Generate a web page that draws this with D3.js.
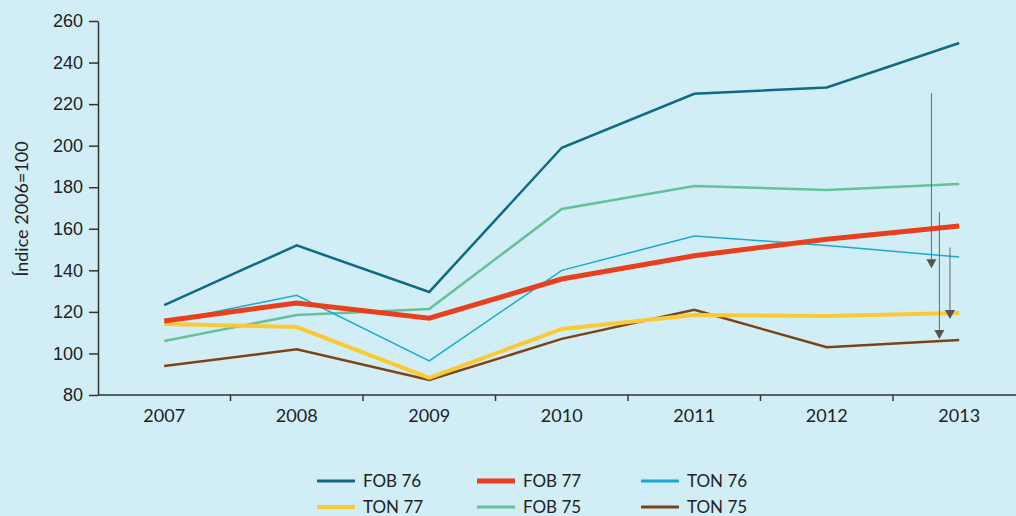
<!DOCTYPE html>
<html>
<head>
<meta charset="utf-8">
<script src="https://cdn.jsdelivr.net/npm/d3@7"></script>
<style>
  body { margin: 0; background: #d1eef6; }
  svg { display: block; font-family: Lato, "Open Sans", sans-serif; }
  .axis path, .axis line { stroke: #333; stroke-width: 1.5; }
  .axis text { font-size: 18px; fill: #222; }
</style>
</head>
<body>
<div id="chart"></div>
<script>
const years = ["2007", "2008", "2009", "2010", "2011", "2012", "2013"];
const yTicks = [80, 100, 120, 140, 160, 180, 200, 220, 240, 260];

const fob76 = [123.3, 152, 129.6, 199, 225, 228, 249.4];
const fob77 = [115.6, 124.3, 117, 135.8, 147, 155, 161.3];
const ton76 = [115, 128, 96.4, 140, 156.5, 152, 146.4];
const ton77 = [114.2, 112.7, 88.2, 111.8, 118.5, 118, 119.5];
const fob75 = [106, 118.5, 121.4, 169.5, 180.6, 178.7, 181.5];
const ton75 = [94, 102, 87.2, 107, 121, 103, 106.5];

const seriesNames = ["FOB 76", "FOB 77", "TON 76", "TON 77", "FOB 75", "TON 75"];
const seriesValues = [fob76, fob77, ton76, ton77, fob75, ton75];
const seriesColors = ["#0f6a85", "#e8401c", "#1aa9d0", "#fcc934", "#66c09b", "#7b4418"];
const seriesWidths = [2.5, 5, 1.5, 4, 2.5, 2.5];
// draw order (thin lines under thick ones roughly like the original)
const drawOrder = [4, 2, 0, 5, 3, 1];

// arrows: [x as fractional year, from value, to value]
const arrows = [
  [2012.79, 225.3, 141],
  [2012.85, 168, 107],
  [2012.93, 151, 116.6]
];

const width = 1016;
const height = 516;

const svg = d3.select('#chart')
  .append('svg')
  .attr('width', width)
  .attr('height', height)

const xScale = d3.scaleBand()
  .domain(years)
  .range([98, 1025.5])

const yScale = d3.scaleLinear()
  .domain([80, 260])
  .range([395, 21])

const xc = (y) => xScale(y) + xScale.bandwidth() / 2;
const xFrac = d3.scaleLinear()
  .domain([2007, 2013])
  .range([xc("2007"), xc("2013")])

// x axis
const xAxis = svg.append('g')
  .attr('class', 'axis')
  .attr('transform', `translate(0, ${yScale(80)})`)

xAxis.append('line')
  .attr('x1', 98).attr('x2', width)

xAxis.selectAll('.tick')
  .data(years.slice(1))
  .join('line')
  .attr('x1', d => xScale(d)).attr('x2', d => xScale(d))
  .attr('y1', 0).attr('y2', 6)

xAxis.selectAll('text')
  .data(years)
  .join('text')
  .attr('x', d => xc(d))
  .attr('y', 27)
  .attr('text-anchor', 'middle')
  .text(d => d)

// y axis
const yAxis = d3.axisLeft(yScale)
  .tickValues(yTicks)
  .tickSize(9)
  .tickSizeOuter(0)
  .tickPadding(6)

svg.append('g')
  .attr('class', 'axis')
  .attr('transform', `translate(98, 0)`)
  .call(yAxis)
  .call(g => g.select('.domain').attr('stroke', '#333'))

svg.append('text')
  .attr('transform', `translate(28, 209) rotate(-90)`)
  .attr('text-anchor', 'middle')
  .attr('font-size', 18)
  .attr('fill', '#222')
  .text('Índice 2006=100')

// lines
const line = d3.line()
  .x((d, i) => xc(years[i]))
  .y(d => yScale(d))

drawOrder.forEach(i => {
  svg.append('path')
    .datum(seriesValues[i])
    .attr('fill', 'none')
    .attr('stroke', seriesColors[i])
    .attr('stroke-width', seriesWidths[i])
    .attr('stroke-linejoin', 'miter')
    .attr('d', line)
})

// arrows
arrows.forEach(a => {
  const x = xFrac(a[0]);
  svg.append('line')
    .attr('x1', x).attr('x2', x)
    .attr('y1', yScale(a[1])).attr('y2', yScale(a[2]) - 9)
    .attr('stroke', '#666')
    .attr('stroke-width', 1)
  svg.append('path')
    .attr('d', `M${x - 5},${yScale(a[2]) - 9} L${x + 5},${yScale(a[2]) - 9} L${x},${yScale(a[2])} Z`)
    .attr('fill', '#555')
})

// legend
const legend = svg.append('g')
const colX = [317, 477, 641];
const rowY = [481, 507];
seriesNames.forEach((name, i) => {
  const cx = colX[i % 3];
  const cy = rowY[Math.floor(i / 3)];
  legend.append('line')
    .attr('x1', cx).attr('x2', cx + 38)
    .attr('y1', cy).attr('y2', cy)
    .attr('stroke', seriesColors[i])
    .attr('stroke-width', Math.max(seriesWidths[i], 3))
  legend.append('text')
    .attr('x', cx + 46)
    .attr('y', cy + 6)
    .attr('font-size', 17)
    .attr('fill', '#222')
    .text(name)
})
</script>
</body>
</html>
